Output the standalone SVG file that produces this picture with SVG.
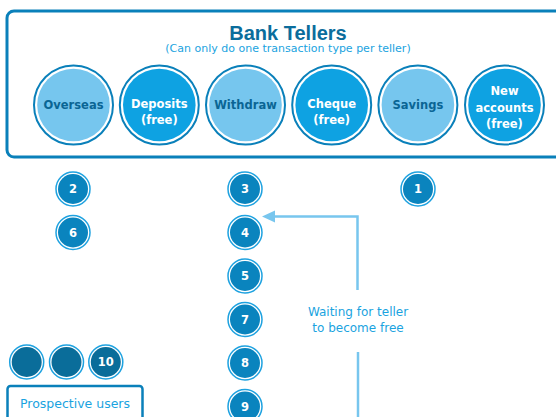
<svg xmlns="http://www.w3.org/2000/svg" width="556" height="417" viewBox="0 0 556 417">
  <style>
    .frame { fill: #ffffff; stroke: #0a80ba; stroke-width: 3; }
    .title { font-family: "Liberation Sans", Arial, sans-serif; font-weight: bold; font-size: 20px; fill: #0b6d9c; text-anchor: middle; }
    .sub { font-family: "DejaVu Sans", sans-serif; font-size: 11px; fill: #1aa3e0; text-anchor: middle; }
    .ring { fill: #ffffff; stroke: #0a80ba; stroke-width: 2; }
    .light { fill: #76c6ee; }
    .bright { fill: #0ea2e2; }
    .lbl { font-family: "DejaVu Sans", sans-serif; font-weight: bold; font-size: 11.5px; text-anchor: middle; }
    .lbl-dark { fill: #0a6594; }
    .lbl-white { fill: #ffffff; }
    .qring { fill: #ffffff; stroke: #1ea2e0; stroke-width: 1.5; }
    .qfill { fill: #0a84be; }
    .qfill-dark { fill: #0a6d9a; }
    .num { font-family: "DejaVu Sans", sans-serif; font-weight: bold; font-size: 11.5px; fill: #ffffff; text-anchor: middle; }
    .note { font-family: "DejaVu Sans", sans-serif; font-size: 12px; fill: #1aa3e0; text-anchor: middle; }
    .link { fill: none; stroke: #78c6ee; stroke-width: 2.5; }
    .box { fill: #ffffff; stroke: #0a80ba; stroke-width: 2.5; }
  </style>
  <defs>
    <g id="teller-light">
      <circle r="39.5" class="ring"/>
      <circle r="36.3" class="light"/>
    </g>
    <g id="teller-bright">
      <circle r="39.5" class="ring"/>
      <circle r="36.3" class="bright"/>
    </g>
    <g id="queue">
      <circle r="17" class="qring"/>
      <circle r="15" class="qfill"/>
    </g>
    <g id="queue-dark">
      <circle r="17" class="qring"/>
      <circle r="15" class="qfill-dark"/>
    </g>
  </defs>

  <!-- teller hall -->
  <g id="tellers-panel">
    <rect x="7" y="11" width="590" height="146" rx="7" class="frame"/>
    <text x="288" y="40" class="title">Bank Tellers</text>
    <text x="288" y="52" class="sub">(Can only do one transaction type per teller)</text>
  </g>

  <g id="teller-overseas">
    <use href="#teller-light" x="73.5" y="105"/>
    <text x="73.5" y="108.5" class="lbl lbl-dark">Overseas</text>
  </g>
  <g id="teller-deposits">
    <use href="#teller-bright" x="159.3" y="105"/>
    <text x="159.3" y="107.5" class="lbl lbl-white">Deposits</text>
    <text x="159.3" y="123.5" class="lbl lbl-white">(free)</text>
  </g>
  <g id="teller-withdraw">
    <use href="#teller-light" x="245.5" y="105"/>
    <text x="245.5" y="108.5" class="lbl lbl-dark">Withdraw</text>
  </g>
  <g id="teller-cheque">
    <use href="#teller-bright" x="331.7" y="105"/>
    <text x="331.7" y="107.5" class="lbl lbl-white">Cheque</text>
    <text x="331.7" y="123.5" class="lbl lbl-white">(free)</text>
  </g>
  <g id="teller-savings">
    <use href="#teller-light" x="417.9" y="105"/>
    <text x="417.9" y="108.5" class="lbl lbl-dark">Savings</text>
  </g>
  <g id="teller-new-accounts">
    <use href="#teller-bright" x="504.5" y="105"/>
    <text x="504.5" y="95" class="lbl lbl-white">New</text>
    <text x="504.5" y="111.5" class="lbl lbl-white">accounts</text>
    <text x="504.5" y="128" class="lbl lbl-white">(free)</text>
  </g>

  <!-- customers -->
  <g id="customer-1"><use href="#queue" x="418" y="189"/><text x="418" y="193" class="num">1</text></g>
  <g id="customer-2"><use href="#queue" x="73" y="189"/><text x="73" y="193" class="num">2</text></g>
  <g id="customer-6"><use href="#queue" x="73" y="232.5"/><text x="73" y="236.5" class="num">6</text></g>
  <g id="customer-3"><use href="#queue" x="245" y="189"/><text x="245" y="193" class="num">3</text></g>
  <g id="customer-4"><use href="#queue" x="245" y="232.5"/><text x="245" y="236.5" class="num">4</text></g>
  <g id="customer-5"><use href="#queue" x="245" y="276"/><text x="245" y="280" class="num">5</text></g>
  <g id="customer-7"><use href="#queue" x="245" y="319.5"/><text x="245" y="323.5" class="num">7</text></g>
  <g id="customer-8"><use href="#queue" x="245" y="363"/><text x="245" y="367" class="num">8</text></g>
  <g id="customer-9"><use href="#queue" x="245" y="406.5"/><text x="245" y="410.5" class="num">9</text></g>

  <g id="prospective-a"><use href="#queue-dark" x="26.7" y="362"/></g>
  <g id="prospective-b"><use href="#queue-dark" x="66.5" y="362"/></g>
  <g id="prospective-10"><use href="#queue-dark" x="105.8" y="362"/><text x="105.8" y="366" class="num">10</text></g>

  <g id="prospective-users">
    <rect x="7.5" y="386" width="135" height="50" rx="3" class="box"/>
    <text x="75" y="407.5" class="note" style="font-size:12.5px">Prospective users</text>
  </g>

  <!-- waiting path -->
  <g id="connectors">
    <path d="M357.5 290 V216.5 H274" class="link"/>
    <polygon points="262,216.5 275,210.5 275,222.5" fill="#78c6ee"/>
    <path d="M358 352 V420" class="link"/>
  </g>

  <g id="waiting-label">
    <text x="358" y="316" class="note">Waiting for teller</text>
    <text x="358" y="332" class="note">to become free</text>
  </g>
</svg>
